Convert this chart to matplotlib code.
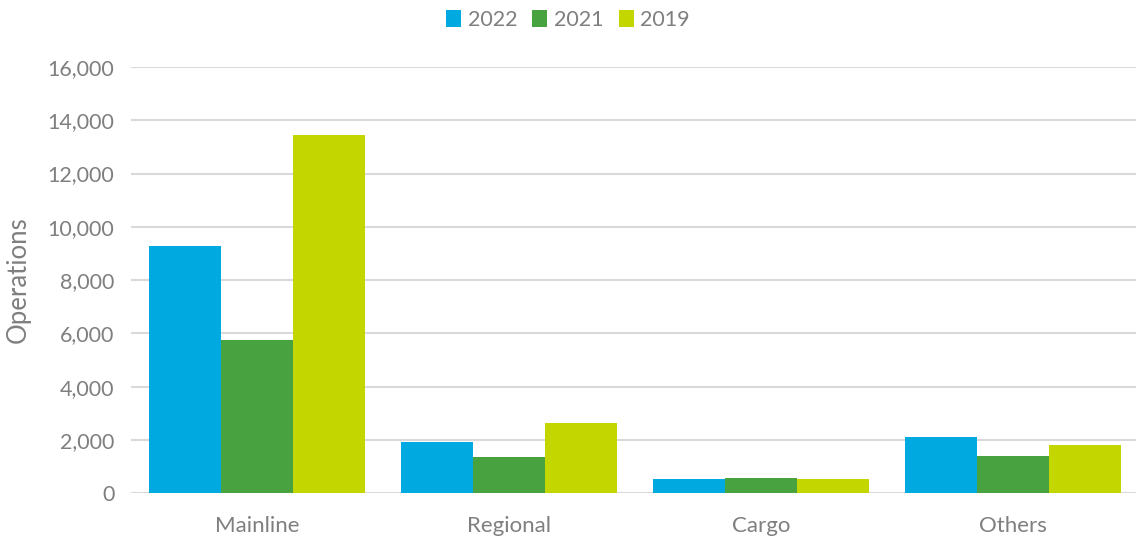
import matplotlib
matplotlib.use("Agg")
import matplotlib.pyplot as plt
import numpy as np
from matplotlib.ticker import FuncFormatter, MultipleLocator

categories = ["Mainline", "Regional", "Cargo", "Others"]
years = ["2022", "2021", "2019"]
values_2022 = [9270, 1910, 540, 2120]
values_2021 = [5750, 1370, 575, 1410]
values_2019 = [13450, 2650, 525, 1810]
colors = ["#00A9E0", "#48A23F", "#C4D600"]

plt.rcParams['font.family'] = ['Lato', 'DejaVu Sans']
gray = "#7F7F7F"

fig = plt.figure(figsize=(11.36, 5.42), dpi=100)
ax = fig.add_axes([131/1136, (542-493.3)/542, (1139-131)/1136, (493.3-66.9)/542])

x = np.arange(len(categories))
w = 0.287
series = [values_2022, values_2021, values_2019]
for i, (vals, c, lab) in enumerate(zip(series, colors, years)):
    ax.bar(x + (i - 1) * w, vals, width=w, color=c, label=lab, zorder=3)

ax.set_xlim(-0.5, 3.5)
ax.set_ylim(0, 16000)
ax.yaxis.set_major_locator(MultipleLocator(2000))
ax.yaxis.set_major_formatter(FuncFormatter(lambda v, p: f"{int(v):,}"))
ax.grid(axis='y', color="#D9D9D9", linewidth=1.5, zorder=0)
ax.set_xticks(x)
ax.set_xticklabels(categories)
for s in ax.spines.values():
    s.set_visible(False)
ax.tick_params(axis='y', length=0, labelsize=15.5, colors=gray, pad=12)
ax.tick_params(axis='x', length=0, labelsize=16, colors=gray, pad=16)
ax.set_ylabel("Operations", fontsize=18.5, color=gray, labelpad=12)

leg = fig.legend(loc='upper center', bbox_to_anchor=(0.5, 1.018), ncol=3, frameon=False,
                 fontsize=15.5, handlelength=0.7, handleheight=0.9, handletextpad=0.3,
                 columnspacing=0.7, labelcolor=gray)

fig.savefig("out.png", dpi=100)
